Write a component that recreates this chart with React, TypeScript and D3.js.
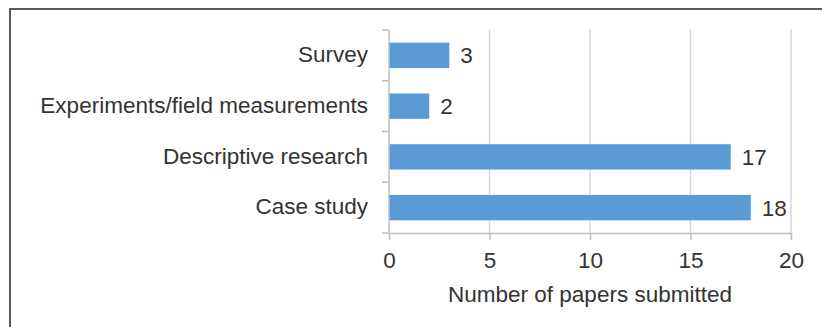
import React, { useEffect, useRef } from 'react';
import * as d3 from 'd3';

const categories = ['Survey', 'Experiments/field measurements', 'Descriptive research', 'Case study'];
const papers = [3, 2, 17, 18];
const xTicks = [0, 5, 10, 15, 20];
const xLabel = 'Number of papers submitted';

const App = () => {
    const svgRef = useRef<SVGSVGElement>(null);

    useEffect(() => {
        if (!svgRef.current) return;
        const svg = d3.select(svgRef.current);
        svg.selectAll('*').remove();

        const font = 'Liberation Sans, Arial, sans-serif';
        const fontSize = 22.5;
        const textColor = '#333333';

        // frame around the figure (runs off the right and bottom edges)
        svg.append('rect')
            .attr('x', 10).attr('y', 9)
            .attr('width', 900).attr('height', 400)
            .attr('fill', 'none')
            .attr('stroke', '#595959')
            .attr('stroke-width', 2);

        const x = d3.scaleLinear().domain([0, 20]).range([389, 791]);
        const y = d3.scaleBand().domain(categories).range([30, 233]).paddingInner(0.5).paddingOuter(0.25);

        // gridlines
        svg.append('g')
            .selectAll('line')
            .data(xTicks.slice(1))
            .enter().append('line')
            .attr('x1', d => x(d)).attr('x2', d => x(d))
            .attr('y1', 29).attr('y2', 233)
            .attr('stroke', '#d9d9d9')
            .attr('stroke-width', 1.5);

        // bars
        svg.append('g')
            .selectAll('rect')
            .data(categories)
            .enter().append('rect')
            .attr('x', x(0))
            .attr('y', d => y(d)!)
            .attr('width', (d, i) => x(papers[i]) - x(0))
            .attr('height', y.bandwidth())
            .attr('fill', '#5b9bd5');

        // value labels
        svg.append('g')
            .selectAll('text')
            .data(categories)
            .enter().append('text')
            .attr('x', (d, i) => x(papers[i]) + 11)
            .attr('y', d => y(d)! + y.bandwidth() / 2)
            .attr('dy', '0.36em')
            .attr('font-family', font)
            .attr('font-size', fontSize)
            .attr('fill', textColor)
            .text((d, i) => papers[i]);

        // x axis
        const xAxis = svg.append('g')
            .attr('transform', 'translate(0,233)')
            .call(d3.axisBottom(x).tickValues(xTicks).tickSize(7).tickPadding(12).tickSizeOuter(0));
        xAxis.select('.domain').attr('stroke', '#bfbfbf').attr('stroke-width', 1.5);
        xAxis.selectAll('.tick line').attr('stroke', '#bfbfbf').attr('stroke-width', 1.5);
        xAxis.selectAll('.tick text')
            .attr('font-family', font)
            .attr('font-size', fontSize)
            .attr('fill', textColor);

        // y axis, ticks sit between categories
        const step = y.step();
        const sep = d3.range(categories.length + 1).map(i => 30 + i * step);
        svg.append('line')
            .attr('x1', x(0)).attr('x2', x(0))
            .attr('y1', 30).attr('y2', 233)
            .attr('stroke', '#bfbfbf').attr('stroke-width', 1.5);
        svg.append('g')
            .selectAll('line')
            .data(sep)
            .enter().append('line')
            .attr('x1', x(0) - 7).attr('x2', x(0))
            .attr('y1', d => d).attr('y2', d => d)
            .attr('stroke', '#bfbfbf').attr('stroke-width', 1.5);

        svg.append('g')
            .selectAll('text')
            .data(categories)
            .enter().append('text')
            .attr('x', 368)
            .attr('y', d => y(d)! + y.bandwidth() / 2)
            .attr('dy', '0.3em')
            .attr('text-anchor', 'end')
            .attr('font-family', font)
            .attr('font-size', fontSize)
            .attr('fill', textColor)
            .text(d => d);

        // axis title
        svg.append('text')
            .attr('x', (x(0) + x(20)) / 2)
            .attr('y', 302)
            .attr('text-anchor', 'middle')
            .attr('font-family', font)
            .attr('font-size', fontSize)
            .attr('fill', textColor)
            .text(xLabel);
    }, []);

    return (
        <svg ref={svgRef} width={822} height={327} style={{ position: 'absolute', left: 0, top: 0, background: '#fff' }} />
    );
};

export default App;
